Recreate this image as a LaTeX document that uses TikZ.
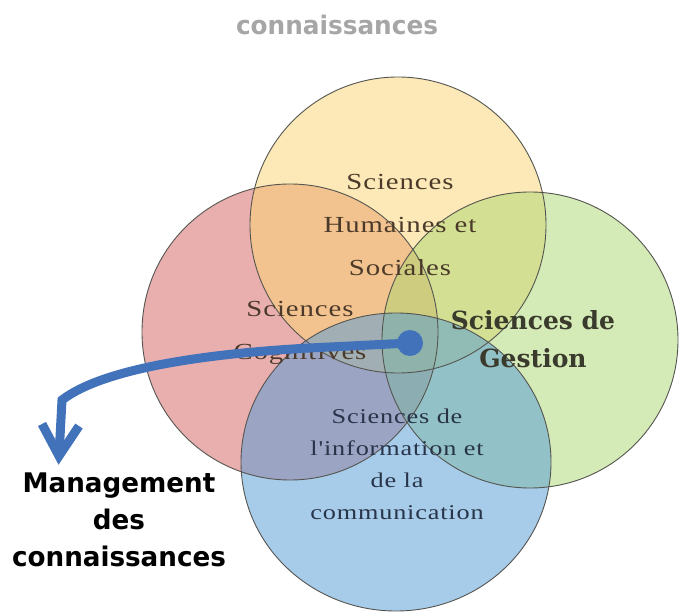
\documentclass[tikz,border=0pt]{standalone}
\usepackage{fontspec}
\newfontfamily\lserif[FakeStretch=1.25,LetterSpace=4]{Liberation Serif}
\newfontfamily\bserif{DejaVu Serif}
\newfontfamily\vsans[FakeStretch=0.97]{DejaVu Sans}
\definecolor{cpink}{RGB}{213,97,97}
\definecolor{cyellow}{RGB}{251,213,113}
\definecolor{cgreen}{RGB}{171,215,113}
\definecolor{cblue}{RGB}{81,155,215}
\definecolor{outl}{RGB}{85,85,80}
\definecolor{txtbrown}{RGB}{75,58,42}
\definecolor{txtblue}{RGB}{40,52,72}
\definecolor{txtgest}{RGB}{58,58,45}
\definecolor{arrowblue}{RGB}{66,114,186}
\definecolor{titlegray}{RGB}{166,166,166}
\begin{document}
\begin{tikzpicture}[x=1pt,y=-1pt,
  setfill/.style={fill=#1,fill opacity=0.5,draw=none},
  setline/.style={draw=outl,line width=0.9pt},
  lbl/.style={align=center,inner sep=0pt,text=txtbrown},
  arrowline/.style={draw=arrowblue,line width=9pt}]
\useasboundingbox (0,0) rectangle (679,612);
\fill[white] (0,0) rectangle (679,612);
% fills
\fill[setfill=cpink] (290,332) circle [radius=148pt];
\fill[setfill=cyellow] (398,225) circle [radius=148pt];
\fill[setfill=cgreen] (530,340) circle [radius=148pt];
\fill[setfill=cblue] (396,462) ellipse [x radius=155pt, y radius=149pt];
% outlines
\draw[setline] (290,332) circle [radius=148pt];
\draw[setline] (398,225) circle [radius=148pt];
\draw[setline] (530,340) circle [radius=148pt];
\draw[setline] (396,462) ellipse [x radius=155pt, y radius=149pt];
% title
\node[inner sep=0pt,text=titlegray,font=\vsans\bfseries\fontsize{25.5}{30}\selectfont] (title) at (337,25) {connaissances};
% texts
\node[lbl,font=\lserif\fontsize{23}{43}\selectfont] (shs) at (400,225) {Sciences\\Humaines et\\Sociales};
\node[lbl,font=\lserif\fontsize{23}{43}\selectfont] (sc) at (300,333) {Sciences\\Cognitives};
\node[lbl,text=txtblue,font=\lserif\fontsize{21}{32}\selectfont] (sic) at (397,464) {Sciences de\\l'information et\\de la\\communication};
\node[lbl,text=txtgest,font=\bserif\bfseries\fontsize{25}{38}\selectfont] (sg) at (533,339) {Sciences de\\Gestion};
\node[inner sep=0pt,align=center,text=black,font=\vsans\bfseries\fontsize{27}{37}\selectfont] (mc) at (119,520) {Management\\des\\connaissances};
% arrow
\node[circle,fill=arrowblue,minimum size=26pt,inner sep=0pt] (dot) at (410,343) {};
\coordinate (bend) at (62,400);
\coordinate (tip) at (59,456);
\draw[arrowline] (dot.center) -- (330,347) .. controls (215,352) and (105,367) .. (bend) -- (tip);
\draw[arrowline,line join=miter] (42,424) -- (tip) -- (79,426);
\end{tikzpicture}
\end{document}
